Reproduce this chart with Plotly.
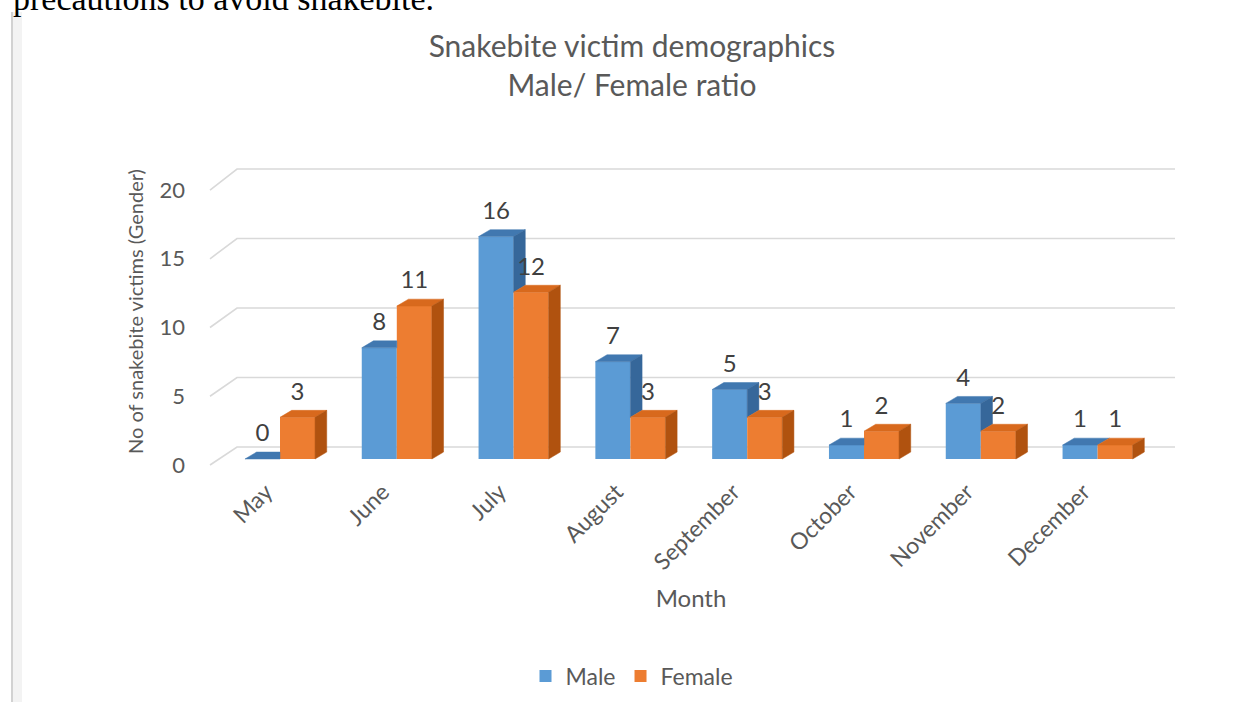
import plotly.graph_objects as go

# ---------------- data ----------------
months = ["May", "June", "July", "August", "September", "October", "November", "December"]
male = [0, 8, 16, 7, 5, 1, 4, 1]
female = [3, 11, 12, 3, 3, 2, 2, 1]
y_ticks = [0, 5, 10, 15, 20]

title_lines = ["Snakebite victim demographics", "Male/ Female ratio"]
y_title = "No of snakebite victims (Gender)"
x_title = "Month"
header_text = "precautions to avoid snakebite."

# ---------------- layout geometry ----------------
W, H = 1248, 702
L, R, T, B = 192, 1190, 150, 473
CAT_PX = 116.8        # pixels per category
VAL_PX = 13.9         # pixels per unit
X0_PX, Y0_PX = 280, 459
x_range = [(L - X0_PX) / CAT_PX, (R - X0_PX) / CAT_PX]
y_range = [(Y0_PX - B) / VAL_PX, (Y0_PX - T) / VAL_PX]

def paper_x(px):
    return (px - L) / (R - L)

def paper_y(py):
    return (B - py) / (B - T)

BW = 0.3      # bar width (category units)
DX = 0.1      # depth offset x
DY = 0.5      # depth offset y
BACK_DY = 0.86
GRID_XF = (210 - X0_PX) / CAT_PX
GRID_XB = (237 - X0_PX) / CAT_PX
GRID_XR = (1175 - X0_PX) / CAT_PX

def front_off(v):
    return -0.43 - 0.011 * v

FONT = "Lato"
GRAY = "#595959"
C_M, C_M_TOP, C_M_SIDE = "#5B9BD5", "#4178B0", "#36679A"
C_F, C_F_TOP, C_F_SIDE = "#ED7D31", "#D8691D", "#B0520F"

idx = list(range(len(months)))
fig = go.Figure()

# back wall grid lines (behind bars)
for v in y_ticks:
    fig.add_trace(go.Scatter(
        x=[GRID_XF, GRID_XB, GRID_XR],
        y=[v + front_off(v), v + BACK_DY, v + BACK_DY],
        mode="lines", line=dict(color="#d9d9d9", width=1.6),
        hoverinfo="skip", showlegend=False, zorder=-1))

# front faces as bars
fig.add_trace(go.Bar(x=idx, y=male, offset=-BW, width=BW, name="Male",
                     marker=dict(color=C_M, line=dict(width=0))))
fig.add_trace(go.Bar(x=idx, y=female, offset=0, width=BW, name="Female",
                     marker=dict(color=C_F, line=dict(width=0))))

def poly(xs, ys, color):
    fig.add_trace(go.Scatter(x=xs + [xs[0]], y=ys + [ys[0]], mode="lines",
                             fill="toself", fillcolor=color,
                             line=dict(color=color, width=0.5),
                             hoverinfo="skip", showlegend=False, zorder=1))

for i, m, f in zip(idx, male, female):
    x0, x1, x2 = i - BW, i, i + BW
    # male top face (clipped where female bar is in front)
    if f <= m:
        poly([x0, x1, x1 + DX, x0 + DX], [m, m, m + DY, m + DY], C_M_TOP)
    elif f >= m + DY:
        poly([x0, x1, x1, x0 + DX], [m, m, m + DY, m + DY], C_M_TOP)
    else:
        xe = x1 + DX * (f - m) / DY
        poly([x0, x1, x1, xe, x1 + DX, x0 + DX], [m, m, f, f, m + DY, m + DY], C_M_TOP)
    # male side face visible above the female bar
    if m > f:
        poly([x1, x1, x1 + DX, x1 + DX], [f, m, m + DY, f + DY], C_M_SIDE)
    # female faces
    poly([x1, x2, x2 + DX, x1 + DX], [f, f, f + DY, f + DY], C_F_TOP)
    poly([x2, x2, x2 + DX, x2 + DX], [0, f, f + DY, DY], C_F_SIDE)

# data labels
LBL = dict(family=FONT, size=24, color="#404040")
fig.add_trace(go.Scatter(x=[i - BW / 2 for i in idx], y=[v + 1.7 for v in male],
                         mode="text", text=[str(v) for v in male], textfont=LBL,
                         hoverinfo="skip", showlegend=False, zorder=2))
fig.add_trace(go.Scatter(x=[i + BW / 2 for i in idx], y=[v + 1.7 for v in female],
                         mode="text", text=[str(v) for v in female], textfont=LBL,
                         hoverinfo="skip", showlegend=False, zorder=2))

fig.update_layout(
    width=W, height=H,
    margin=dict(l=L, r=W - R, t=T, b=H - B, autoexpand=False),
    paper_bgcolor="white", plot_bgcolor="white",
    barmode="overlay",
    font=dict(family=FONT, color=GRAY, size=22),
    title=dict(text="<br>".join(title_lines), x=632 / W, xref="container",
               xanchor="center", y=1 - 57 / H, yref="container", yanchor="top",
               font=dict(family=FONT, size=30, color=GRAY)),
    xaxis=dict(range=x_range, tickvals=[i - 0.12 for i in idx], ticktext=months,
               tickangle=-45, showgrid=False, zeroline=False, showline=False,
               ticks="", tickfont=dict(size=23, color=GRAY),
               title=dict(text=x_title, font=dict(size=24, color=GRAY), standoff=16)),
    yaxis=dict(range=y_range, tickvals=[v + front_off(v) for v in y_ticks],
               ticktext=[str(v) for v in y_ticks], showgrid=False, zeroline=False,
               showline=False, ticks="", ticklabelstandoff=6,
               tickfont=dict(size=22, color=GRAY),
               title=dict(text=y_title, font=dict(size=20, color=GRAY), standoff=10)),
    legend=dict(orientation="h", x=paper_x(632), xanchor="center",
                y=paper_y(676), yanchor="middle", font=dict(size=23, color=GRAY),
                traceorder="normal"),
    showlegend=True,
)

# header text from the surrounding document (clipped by the top edge)
fig.add_annotation(text=header_text, xref="paper", yref="paper",
                   x=paper_x(11), y=paper_y(19), xanchor="left", yanchor="bottom",
                   showarrow=False, font=dict(family="Liberation Serif", size=34, color="black"))

# chart frame edge on the left
fig.add_shape(type="rect", xref="paper", yref="paper",
              x0=paper_x(13), x1=paper_x(22), y0=paper_y(H + 5), y1=paper_y(12),
              fillcolor="#f3f3f3", line=dict(width=0), layer="below")
fig.add_shape(type="line", xref="paper", yref="paper",
              x0=paper_x(12), x1=paper_x(12), y0=paper_y(H + 5), y1=paper_y(12),
              line=dict(color="#d2d2d2", width=2), layer="below")

fig.write_html("out.html", config={"displayModeBar": False},
               post_script="document.body.style.margin='0';")
